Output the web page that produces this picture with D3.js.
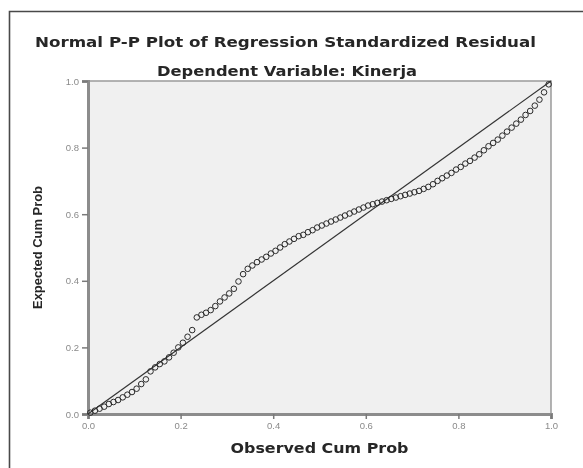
<!DOCTYPE html>
<html>
<head>
<meta charset="utf-8">
<script src="https://cdn.jsdelivr.net/npm/d3@7"></script>
<style>
  html, body { margin: 0; padding: 0; background: #fff; }
  svg { display: block; }
</style>
</head>
<body>
<svg id="chart" width="583" height="468"></svg>
<script>
const titleText = "Normal P-P Plot of Regression Standardized Residual";
const subtitleText = "Dependent Variable: Kinerja";
const xLabelText = "Observed Cum Prob";
const yLabelText = "Expected Cum Prob";
const xTicks = [0, 0.2, 0.4, 0.6, 0.8, 1.0];
const yTicks = [0, 0.2, 0.4, 0.6, 0.8, 1.0];

const observed = [
  0.005, 0.015, 0.025, 0.035, 0.045, 0.055, 0.065, 0.075, 0.085, 0.095,
  0.105, 0.115, 0.125, 0.135, 0.145, 0.155, 0.165, 0.175, 0.185, 0.195,
  0.205, 0.215, 0.225, 0.235, 0.245, 0.255, 0.265, 0.275, 0.285, 0.295,
  0.305, 0.315, 0.325, 0.335, 0.345, 0.355, 0.365, 0.375, 0.385, 0.395,
  0.405, 0.415, 0.425, 0.435, 0.445, 0.455, 0.465, 0.475, 0.485, 0.495,
  0.505, 0.515, 0.525, 0.535, 0.545, 0.555, 0.565, 0.575, 0.585, 0.595,
  0.605, 0.615, 0.625, 0.635, 0.645, 0.655, 0.665, 0.675, 0.685, 0.695,
  0.705, 0.715, 0.725, 0.735, 0.745, 0.755, 0.765, 0.775, 0.785, 0.795,
  0.805, 0.815, 0.825, 0.835, 0.845, 0.855, 0.865, 0.875, 0.885, 0.895,
  0.905, 0.915, 0.925, 0.935, 0.945, 0.955, 0.965, 0.975, 0.985, 0.995
];
const expected = [
  0.004, 0.010, 0.016, 0.022, 0.030, 0.036, 0.042, 0.050, 0.058, 0.066,
  0.076, 0.090, 0.104, 0.128, 0.140, 0.150, 0.158, 0.170, 0.184, 0.200,
  0.214, 0.232, 0.252, 0.290, 0.298, 0.304, 0.312, 0.324, 0.338, 0.350,
  0.362, 0.376, 0.398, 0.420, 0.436, 0.446, 0.456, 0.464, 0.472, 0.482,
  0.490, 0.500, 0.510, 0.518, 0.526, 0.534, 0.538, 0.546, 0.552, 0.560,
  0.566, 0.572, 0.578, 0.584, 0.590, 0.596, 0.602, 0.608, 0.614, 0.620,
  0.626, 0.630, 0.634, 0.638, 0.642, 0.646, 0.650, 0.654, 0.658, 0.662,
  0.666, 0.670, 0.676, 0.682, 0.690, 0.700, 0.708, 0.716, 0.724, 0.734,
  0.742, 0.752, 0.760, 0.770, 0.780, 0.792, 0.804, 0.814, 0.824, 0.836,
  0.848, 0.860, 0.872, 0.884, 0.898, 0.910, 0.926, 0.944, 0.966, 0.990
];
const refLine = [[0, 0], [1, 1]];

const svg = d3.select("#chart");
const plot = { left: 88, right: 551, top: 81, bottom: 414 };

const defs = svg.append("defs");
defs.append("filter").attr("id", "soft")
  .attr("x", "-5%").attr("y", "-5%").attr("width", "110%").attr("height", "110%")
  .append("feGaussianBlur").attr("stdDeviation", 0.45);

const root = svg.append("g").attr("filter", "url(#soft)");

const x = d3.scaleLinear().domain([0, 1]).range([plot.left, plot.right]);
const y = d3.scaleLinear().domain([0, 1]).range([plot.bottom, plot.top]);

// outer frame (only left/top inside the picture)
root.append("path")
  .attr("d", "M9.5,470 L9.5,11.5 L590,11.5")
  .attr("fill", "none").attr("stroke", "#4a4a4a").attr("stroke-width", 1.6);

// titles
root.append("text").text(titleText)
  .attr("x", 35).attr("y", 47)
  .attr("textLength", 501).attr("lengthAdjust", "spacingAndGlyphs")
  .attr("font-family", "DejaVu Sans, Liberation Sans, sans-serif")
  .attr("font-weight", "bold").attr("font-size", 14).attr("fill", "#262626");
root.append("text").text(subtitleText)
  .attr("x", 157).attr("y", 76)
  .attr("textLength", 260).attr("lengthAdjust", "spacingAndGlyphs")
  .attr("font-family", "DejaVu Sans, Liberation Sans, sans-serif")
  .attr("font-weight", "bold").attr("font-size", 14).attr("fill", "#262626");

// plot background
root.append("rect")
  .attr("x", x(0)).attr("y", y(1))
  .attr("width", x(1) - x(0)).attr("height", y(0) - y(1))
  .attr("fill", "#f0f0f0").attr("stroke", "#9a9a9a").attr("stroke-width", 1.5);

// axes
const fmt = d3.format(".1f");
const gx = root.append("g").attr("transform", `translate(0,${plot.bottom})`)
  .call(d3.axisBottom(x).tickValues(xTicks).tickFormat(fmt).tickSize(5).tickPadding(3));
const gy = root.append("g").attr("transform", `translate(${plot.left},0)`)
  .call(d3.axisLeft(y).tickValues(yTicks).tickFormat(fmt).tickSize(6).tickPadding(3));
[gx, gy].forEach(g => {
  g.select(".domain").attr("stroke", "#8c8c8c").attr("stroke-width", 3);
  g.selectAll(".tick line").attr("stroke", "#7a7a7a").attr("stroke-width", 1.5);
  g.selectAll(".tick text")
    .attr("fill", "#8a8a8a")
    .attr("font-family", "Liberation Sans, Arial, sans-serif")
    .attr("font-size", 9.5);
});

// axis labels
root.append("text").text(xLabelText)
  .attr("x", (plot.left + plot.right) / 2).attr("y", 453)
  .attr("text-anchor", "middle")
  .attr("textLength", 178).attr("lengthAdjust", "spacingAndGlyphs")
  .attr("font-family", "DejaVu Sans, Liberation Sans, sans-serif")
  .attr("font-weight", "bold").attr("font-size", 13.5).attr("fill", "#262626");
root.append("text").text(yLabelText)
  .attr("transform", `translate(41.5,${(plot.top + plot.bottom) / 2}) rotate(-90)`)
  .attr("text-anchor", "middle")
  .attr("textLength", 123).attr("lengthAdjust", "spacingAndGlyphs")
  .attr("font-family", "Liberation Sans Narrow, Liberation Sans, sans-serif")
  .attr("font-weight", "bold").attr("font-size", 12.5).attr("fill", "#262626");

// reference line
root.append("path")
  .attr("d", d3.line().x(d => x(d[0])).y(d => y(d[1]))(refLine))
  .attr("stroke", "#333").attr("stroke-width", 1.2).attr("fill", "none");

// points
const pts = observed.map((o, i) => ({ o, e: expected[i] }));
root.append("g").selectAll("circle").data(pts).join("circle")
  .attr("cx", d => x(d.o)).attr("cy", d => y(d.e)).attr("r", 2.8)
  .attr("fill", "none").attr("stroke", "#2a2a2a").attr("stroke-width", 1);
</script>
</body>
</html>
